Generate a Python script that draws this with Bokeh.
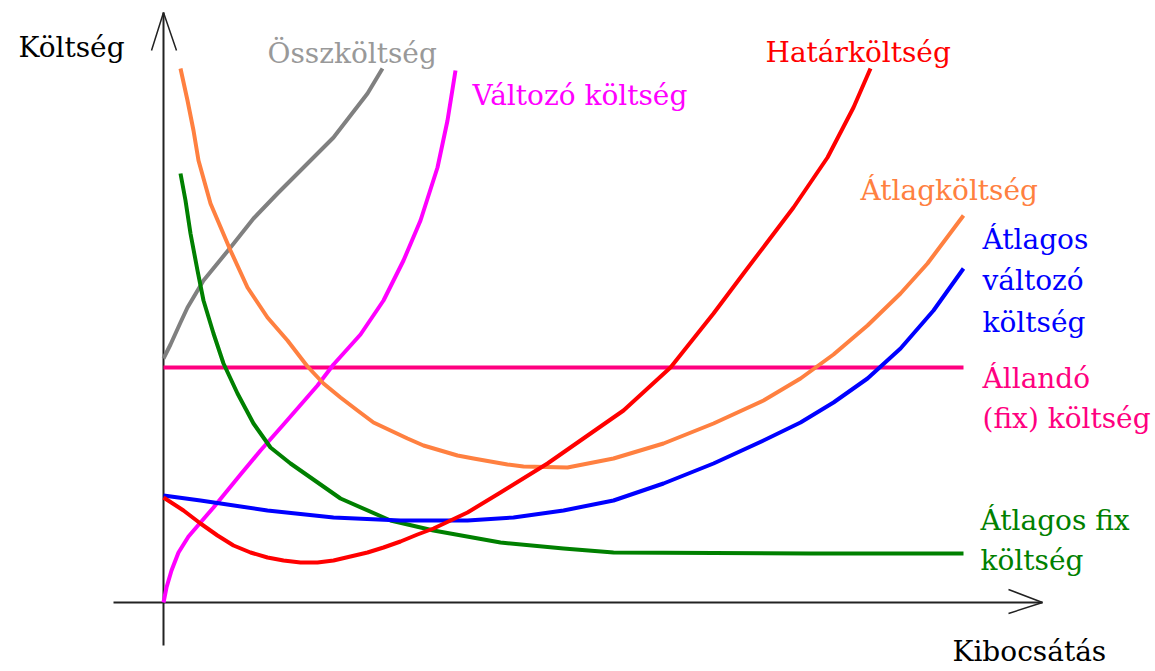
from bokeh.plotting import figure
from bokeh.models import Range1d
from bokeh.core.properties import value
from bokeh.embed import file_html
from bokeh.resources import INLINE

# Output quantity (x) and cost (y)
tc_q = [0, 7, 17, 24, 40, 67, 90, 114, 140, 170, 187, 204, 219]
tc_c = [244, 258, 280, 295, 322, 355, 384, 409, 435, 465, 487, 509, 534]

vc_q = [0, 3, 8, 15, 25, 37, 50, 77, 97, 120, 154, 170, 197, 220, 240, 257, 274, 284, 292]
vc_c = [0, 15, 32, 50, 66, 80, 95, 128, 152, 178, 217, 238, 268, 302, 342, 382, 435, 482, 532]

mc_q = [0, 20, 37, 54, 70, 87, 104, 120, 137, 154, 170, 187, 204, 220, 237, 254, 270, 304, 337,
        384, 460, 507, 550, 580, 630, 664, 690, 707]
mc_c = [105, 92, 79, 67, 57, 50, 45, 42, 40, 40, 42, 46, 50, 55, 61, 68, 74, 90, 110,
        139, 192, 235, 289, 329, 395, 445, 495, 534]

atc_q = [17, 24, 30, 35, 47, 67, 84, 104, 124, 144, 160, 177, 194, 210, 227, 244, 260, 277, 294,
         310, 327, 344, 360, 404, 450, 500, 550, 600, 637, 670, 704, 737, 764, 800]
atc_c = [534, 502, 472, 442, 399, 352, 315, 285, 262, 236, 219, 205, 192, 180, 172, 164, 157, 152, 147,
         144, 141, 138, 136, 135, 144, 159, 179, 202, 224, 248, 277, 309, 339, 387]

avc_q = [0, 37, 104, 170, 237, 304, 350, 400, 450, 500, 550, 600, 637, 670, 704, 737, 770, 800]
avc_c = [107, 102, 92, 85, 82, 82, 85, 92, 102, 119, 139, 162, 180, 200, 224, 254, 292, 334]

afc_q = [17, 22, 27, 34, 40, 50, 60, 74, 90, 107, 127, 147, 177, 227, 270, 337, 400, 450, 647, 800]
afc_c = [429, 402, 369, 332, 302, 269, 239, 209, 179, 155, 139, 125, 104, 82, 72, 60, 54, 50, 49, 49]

fc_q = [0, 800]
fc_c = [235, 235]

# Axis geometry (arrows)
yaxis_q = [0, 0]
yaxis_c = [-43, 590]
yhead_q = [-12, 0, 13]
yhead_c = [552, 590, 552]
xaxis_q = [-50, 879]
xaxis_c = [0, 0]
xhead_q = [845, 879, 845]
xhead_c = [13, 0, -11]

labels = ["Költség", "Összköltség", "Változó költség", "Határköltség", "Átlagköltség",
          "Átlagos", "változó", "költség", "Állandó", "(fix) költség",
          "Átlagos fix", "költség", "Kibocsátás"]
label_q = [-145, 104, 309, 602, 697, 819, 819, 819, 819, 819, 817, 817, 789]
label_c = [555, 549, 507, 550, 412, 363, 322, 280, 224, 184, 82, 42, -49]
label_col = ["#000000", "#999999", "#ff00ff", "#ff0000", "#ff8040",
             "#0000ff", "#0000ff", "#0000ff", "#ff0080", "#ff0080",
             "#008000", "#008000", "#000000"]

p = figure(width=1155, height=671, x_range=Range1d(-163, 992), y_range=Range1d(-69, 602),
           toolbar_location=None, output_backend="svg", min_border=0,
           x_axis_type=None, y_axis_type=None)
p.grid.visible = False
p.outline_line_color = None
p.background_fill_color = "white"

ax = "#222222"
p.line(yaxis_q, yaxis_c, line_color=ax, line_width=2)
p.line(yhead_q, yhead_c, line_color=ax, line_width=1.5)
p.line(xaxis_q, xaxis_c, line_color=ax, line_width=2)
p.line(xhead_q, xhead_c, line_color=ax, line_width=1.5)

lw = 4
p.line(fc_q, fc_c, line_color="#ff0080", line_width=lw)
p.line(tc_q, tc_c, line_color="#808080", line_width=lw, line_join="round")
p.line(vc_q, vc_c, line_color="#ff00ff", line_width=lw, line_join="round")
p.line(atc_q, atc_c, line_color="#ff8040", line_width=lw, line_join="round")
p.line(afc_q, afc_c, line_color="#008000", line_width=lw, line_join="round")
p.line(avc_q, avc_c, line_color="#0000ff", line_width=lw, line_join="round")
p.line(mc_q, mc_c, line_color="#ff0000", line_width=lw, line_join="round")

p.text(x=label_q, y=label_c, text=labels, text_color=label_col,
       text_font=value("DejaVu Serif"), text_font_size="28px",
       text_baseline="alphabetic", text_align="left")

open("out.html", "w").write(file_html(p, INLINE))
